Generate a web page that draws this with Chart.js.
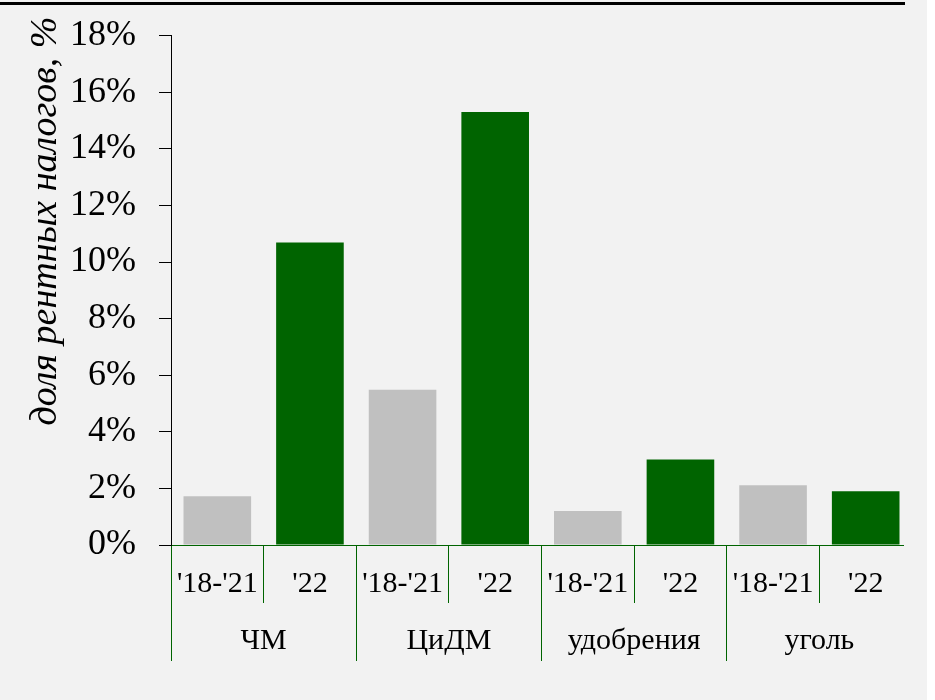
<!DOCTYPE html>
<html>
<head>
<meta charset="utf-8">
<script src="https://cdn.jsdelivr.net/npm/chart.js@4"></script>
<style>
  html, body { margin: 0; padding: 0; background: #ffffff; }
  #wrap { position: relative; width: 927px; height: 700px; background: #f2f2f2; overflow: hidden; }
  #topRule { position: absolute; left: 0; top: 2px; width: 905px; height: 3px; background: #000; }
  #clip { position: absolute; left: 0; top: 0; width: 904px; height: 700px; overflow: hidden; }
  #chart { position: absolute; left: 0; top: 0; }
</style>
</head>
<body>
<div id="wrap">
  <div id="clip"><canvas id="chart" width="912" height="700"></canvas></div>
  <div id="topRule"></div>
</div>
<script>
// группы и периоды
const groups = ['ЧМ', 'ЦиДМ', 'удобрения', 'уголь'];
const periods = ["'18-'21", "'22"];
// доля рентных налогов, %
const share1821 = [1.72, 5.49, 1.2, 2.11];
const share22 = [10.69, 15.3, 3.02, 1.9];
const yTicks = [0, 2, 4, 6, 8, 10, 12, 14, 16, 18];
const axisTitle = 'доля рентных налогов, %';

const green = '#006400';
const grey = '#c0c0c0';

// собираем подписи и значения по порядку: группа -> период
const labels = [];
const values = [];
const colors = [];
groups.forEach((g, i) => {
    labels.push(periods[0], periods[1]);
    values.push(share1821[i], share22[i]);
    colors.push(grey, green);
});

// последняя линия сетки (правый край) не рисуется
const edgeColor = (ctx) => ctx.index === undefined ? 'rgba(0,0,0,0)' : green;

// подпись оси Y рисуем вручную, чуть выше центра
const yTitle = {
    id: 'yTitle',
    afterDraw(chart) {
        const ctx = chart.ctx;
        ctx.save();
        ctx.translate(46, 221);
        ctx.rotate(-Math.PI / 2);
        ctx.font = 'italic 38px "Liberation Serif"';
        ctx.fillStyle = '#000';
        ctx.textAlign = 'center';
        ctx.textBaseline = 'middle';
        ctx.fillText(axisTitle, 0, 0);
        ctx.restore();
    }
};

Chart.defaults.font.family = '"Liberation Serif", "DejaVu Serif", serif';
Chart.defaults.color = '#000';

new Chart(document.getElementById('chart').getContext('2d'), {
    type: 'bar',
    data: {
        labels: labels,
        datasets: [{
            data: values,
            backgroundColor: colors,
            borderWidth: 0,
            categoryPercentage: 1,
            barPercentage: 0.73
        }]
    },
    options: {
        responsive: false,
        animation: false,
        layout: { padding: { top: 33, right: 0, bottom: 0, left: 0 } },
        plugins: {
            legend: { display: false },
            tooltip: { enabled: false }
        },
        scales: {
            x: {
                position: 'bottom',
                offset: true,
                grid: {
                    offset: true,
                    drawOnChartArea: false,
                    drawTicks: true,
                    tickLength: 58,
                    color: edgeColor,
                    lineWidth: 1
                },
                border: { display: true, color: green, width: 1 },
                ticks: {
                    font: { size: 30 },
                    padding: -37,
                    maxRotation: 0,
                    autoSkip: false
                },
                afterFit(scale) { scale.height = 58; }
            },
            x2: {
                type: 'category',
                position: 'bottom',
                labels: groups,
                offset: true,
                grid: {
                    offset: true,
                    drawOnChartArea: false,
                    drawTicks: true,
                    tickLength: 58,
                    color: edgeColor,
                    lineWidth: 1
                },
                border: { display: false },
                ticks: {
                    font: { size: 30 },
                    padding: -38,
                    maxRotation: 0,
                    autoSkip: false
                },
                afterFit(scale) { scale.height = 97; }
            },
            y: {
                min: 0,
                max: 18,
                afterBuildTicks(scale) {
                    scale.ticks = yTicks.map(v => ({ value: v }));
                },
                grid: {
                    drawOnChartArea: false,
                    drawTicks: true,
                    tickLength: 12,
                    color: '#000',
                    lineWidth: 1
                },
                border: { display: true, color: '#000', width: 1 },
                ticks: {
                    font: { size: 36, lineHeight: 0.7 },
                    padding: 23,
                    callback: (v) => v + '%'
                },
                afterFit(scale) { scale.width = 171; }
            }
        }
    },
    plugins: [yTitle]
});
</script>
</body>
</html>
